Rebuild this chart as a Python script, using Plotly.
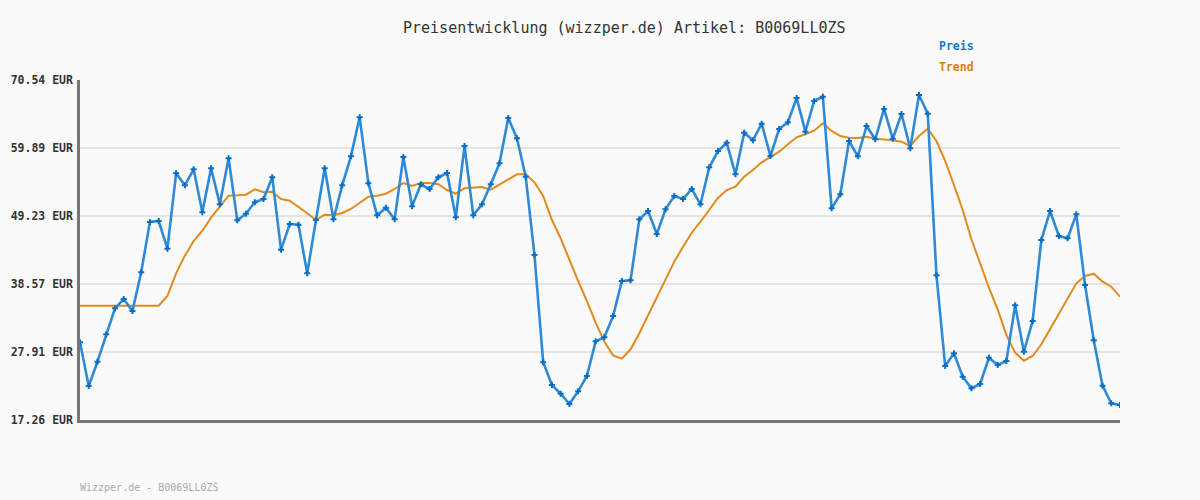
import plotly.graph_objects as go

preis = [29.44, 22.59, 26.40, 30.69, 34.76, 36.22, 34.34, 40.41, 48.29, 48.44,
         44.10, 55.92, 54.04, 56.55, 49.81, 56.70, 51.06, 58.27, 48.55, 49.59,
         51.37, 51.89, 55.29, 43.95, 47.97, 47.86, 40.25, 48.60, 56.70, 48.71,
         54.04, 58.58, 64.69, 54.35, 49.34, 50.53, 48.71, 58.47, 50.75, 54.20,
         53.46, 55.29, 55.97, 49.02, 60.20, 49.34, 51.06, 54.20, 57.49, 64.59,
         61.40, 55.39, 43.12, 26.30, 22.74, 21.38, 19.77, 21.76, 24.16, 29.59,
         30.22, 33.56, 39.04, 39.15, 48.71, 50.01, 46.41, 50.28, 52.36, 51.89,
         53.46, 51.06, 56.86, 59.41, 60.71, 55.76, 62.28, 61.09, 63.69, 58.63,
         62.86, 63.91, 67.72, 62.44, 67.25, 67.92, 50.43, 52.63, 60.98, 58.58,
         63.33, 61.25, 66.00, 61.34, 65.21, 59.84, 68.19, 65.26, 39.94, 25.72,
         27.71, 24.05, 22.23, 22.90, 27.02, 25.88, 26.51, 35.23, 27.96, 32.77,
         45.47, 50.01, 46.09, 45.73, 49.49, 38.42, 29.75, 22.64, 19.88, 19.61]

trend = [35.17, 35.17, 35.17, 35.17, 35.17, 35.17, 35.17, 35.17, 35.17, 35.17,
         36.69, 40.25, 43.01, 45.31, 46.92, 48.96, 50.69, 52.41, 52.47, 52.57,
         53.41, 52.94, 53.04, 51.89, 51.63, 50.69, 49.65, 48.60, 49.43, 49.34,
         49.70, 50.33, 51.31, 52.25, 52.41, 52.72, 53.46, 54.40, 53.93, 54.40,
         54.40, 54.20, 53.30, 52.72, 53.57, 53.62, 53.77, 53.35, 54.13, 55.03,
         55.76, 55.76, 54.51, 52.36, 48.60, 45.73, 42.33, 39.04, 35.91, 32.51,
         29.53, 27.37, 26.87, 28.34, 30.85, 33.71, 36.33, 39.20, 42.07, 44.42,
         46.61, 48.33, 50.17, 52.05, 53.30, 53.82, 55.39, 56.44, 57.64, 58.43,
         59.30, 60.46, 61.56, 62.03, 62.60, 63.75, 62.55, 61.76, 61.50, 61.45,
         61.65, 61.34, 61.25, 61.09, 60.87, 60.20, 61.76, 62.91, 60.98, 57.85,
         54.09, 50.17, 45.58, 41.82, 37.99, 34.61, 30.58, 27.81, 26.55, 27.29,
         29.12, 31.47, 33.82, 36.22, 38.68, 39.83, 40.19, 38.93, 38.15, 36.58]

tick_vals = [17.26, 27.91, 38.57, 49.23, 59.89, 70.54]
tick_text = ["17.26 EUR", "27.91 EUR", "38.57 EUR", "49.23 EUR", "59.89 EUR", "70.54 EUR"]

title_text = "Preisentwicklung (wizzper.de) Artikel: B0069LL0ZS"
footer_text = "Wizzper.de - B0069LL0ZS"

MONO = "DejaVu Sans Mono"
x = list(range(len(preis)))

fig = go.Figure()
fig.add_trace(go.Scatter(
    x=x, y=trend, mode="lines", name="Trend",
    line=dict(color="#e38a1c", width=2), hoverinfo="skip"))
fig.add_trace(go.Scatter(
    x=x, y=preis, mode="lines+markers", name="Preis",
    line=dict(color="#2f8ad6", width=2.6),
    marker=dict(symbol="cross", size=5, color="#0a6fc4", line=dict(width=0))))

fig.update_layout(
    width=1200, height=500,
    paper_bgcolor="#fafafa", plot_bgcolor="#fafafa",
    margin=dict(l=80, r=80, t=80, b=80, autoexpand=False),
    showlegend=False,
    xaxis=dict(range=[0, len(preis) - 1], showgrid=False, zeroline=False,
               showticklabels=False, ticks="", showline=True, automargin=False,
               linecolor="#777777", linewidth=2.5),
    yaxis=dict(range=[17.26, 70.54], tickvals=tick_vals, ticktext=tick_text,
               showgrid=True, gridcolor="#e4e4e4", gridwidth=2, zeroline=False,
               showline=True, linecolor="#777777", linewidth=2.5, ticks="",
               automargin=False, ticklabelstandoff=2,
               tickfont=dict(family=MONO, size=11.5, color="#333333", weight="bold")),
    annotations=[
        dict(text=title_text, xref="paper", yref="paper", x=0.5, y=1,
             xshift=24, yshift=52, xanchor="center", yanchor="middle",
             showarrow=False, font=dict(family=MONO, size=15, color="#333333")),
        dict(text="<b>Preis</b>", xref="paper", yref="paper", x=(937 - 80) / 1040, y=1,
             yshift=34, xanchor="left", yanchor="middle", showarrow=False,
             font=dict(family=MONO, size=11.5, color="#1a78c8")),
        dict(text="<b>Trend</b>", xref="paper", yref="paper", x=(937 - 80) / 1040, y=1,
             yshift=13, xanchor="left", yanchor="middle", showarrow=False,
             font=dict(family=MONO, size=11.5, color="#dc7c10")),
        dict(text=footer_text, xref="paper", yref="paper", x=0, y=0,
             xshift=-2, yshift=-67, xanchor="left", yanchor="middle", showarrow=False,
             font=dict(family=MONO, size=10, color="#aaaaaa")),
    ],
)

fig.write_html("out.html", config={"displayModeBar": False},
               post_script="document.body.style.margin='0';document.body.style.background='#fafafa';")
